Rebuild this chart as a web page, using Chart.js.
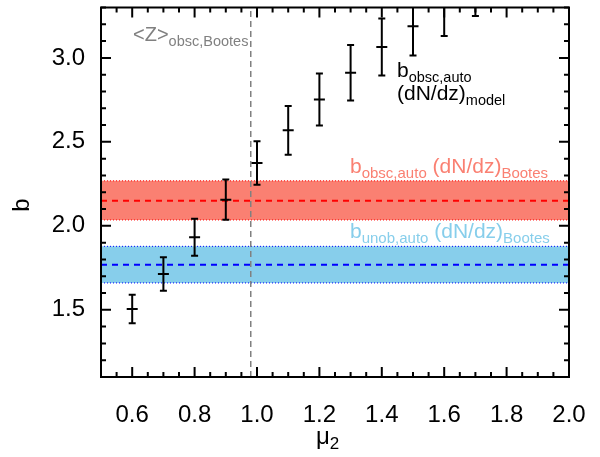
<!DOCTYPE html>
<html>
<head>
<meta charset="utf-8">
<script src="https://cdn.jsdelivr.net/npm/chart.js@4.4.0/dist/chart.umd.min.js"></script>
<style>
html, body { margin: 0; padding: 0; background: #fff; }
#wrap { width: 600px; height: 457px; }
</style>
</head>
<body>
<div id="wrap"><canvas id="biasChart" width="600" height="457"></canvas></div>
<script>
// Axis ranges and tick labels
const xRange = [0.5, 2.0];
const yRange = [1.1, 3.3];
const xTicks = [0.6, 0.8, 1.0, 1.2, 1.4, 1.6, 1.8, 2.0];
const yTicks = [1.5, 2.0, 2.5, 3.0];

// Bias vs mu_2 (points with error bars)
const muValues = [0.6, 0.7, 0.8, 0.9, 1.0, 1.1, 1.2, 1.3, 1.4, 1.5, 1.6, 1.7];
const biasValues = [1.505, 1.713, 1.932, 2.156, 2.374, 2.569, 2.752, 2.911, 3.065, 3.189, 3.31, 3.44];
const biasErrors = [0.085, 0.10, 0.11, 0.12, 0.13, 0.145, 0.155, 0.165, 0.17, 0.175, 0.18, 0.19];

// Bootes bands: [low, mean, high]
const obscBand = [2.035, 2.15, 2.268];
const unobBand = [1.66, 1.768, 1.878];

// mean redshift marker
const zMean = 0.98;

const FONT = '"Liberation Sans", Arial, sans-serif';
const salmon = '#fa8072';
const skyblue = '#87ceeb';

function hLine(yVal) {
    return [{ x: xRange[0], y: yVal }, { x: xRange[1], y: yVal }];
}

function drawRich(ctx, x, y, parts, color) {
    ctx.fillStyle = color;
    ctx.textAlign = 'left';
    ctx.textBaseline = 'alphabetic';
    parts.forEach(p => {
        ctx.font = p.size + 'px ' + FONT;
        ctx.fillText(p.text, x, y + (p.dy || 0));
        x += ctx.measureText(p.text).width;
    });
}

// error bars drawn through the scales
const errorBarPlugin = {
    id: 'errorBars',
    afterDatasetsDraw(chart) {
        const ctx = chart.ctx;
        const xs = chart.scales.x, ys = chart.scales.y;
        const area = chart.chartArea;
        ctx.save();
        ctx.beginPath();
        ctx.rect(area.left, area.top, area.right - area.left, area.bottom - area.top);
        ctx.clip();
        ctx.strokeStyle = '#000';
        ctx.lineWidth = 2;
        muValues.forEach((mu, i) => {
            const px = xs.getPixelForValue(mu);
            const top = ys.getPixelForValue(biasValues[i] + biasErrors[i]);
            const bot = ys.getPixelForValue(biasValues[i] - biasErrors[i]);
            ctx.beginPath();
            ctx.moveTo(px, top); ctx.lineTo(px, bot);
            ctx.moveTo(px - 3.5, top); ctx.lineTo(px + 3.5, top);
            ctx.moveTo(px - 3.5, bot); ctx.lineTo(px + 3.5, bot);
            ctx.stroke();
        });
        ctx.restore();
    }
};

// IDL-style frame with inward ticks on all four sides, plus the annotations
const framePlugin = {
    id: 'frame',
    afterDraw(chart) {
        const ctx = chart.ctx;
        const xs = chart.scales.x, ys = chart.scales.y;
        const a = chart.chartArea;
        ctx.save();
        ctx.strokeStyle = '#000';
        ctx.lineWidth = 2;
        ctx.strokeRect(a.left, a.top, a.right - a.left, a.bottom - a.top);

        ctx.beginPath();
        for (let k = 10; k <= 40; k += 1) {
            const v = k * 0.05;
            const px = xs.getPixelForValue(v);
            const len = (k % 4 === 0) ? 10 : 5;
            ctx.moveTo(px, a.bottom); ctx.lineTo(px, a.bottom - len);
            ctx.moveTo(px, a.top); ctx.lineTo(px, a.top + len);
        }
        for (let k = 11; k <= 33; k += 1) {
            const v = k * 0.1;
            const py = ys.getPixelForValue(v);
            const len = (k % 5 === 0) ? 10 : 5;
            ctx.moveTo(a.left, py); ctx.lineTo(a.left + len, py);
            ctx.moveTo(a.right, py); ctx.lineTo(a.right - len, py);
        }
        ctx.stroke();

        // annotations
        drawRich(ctx, 133, 41, [
            { text: '<Z>', size: 20 },
            { text: 'obsc,Bootes', size: 14.5, dy: 5 }
        ], '#808080');
        drawRich(ctx, 397, 77, [
            { text: 'b', size: 21 },
            { text: 'obsc,auto', size: 14.5, dy: 5 }
        ], '#000');
        drawRich(ctx, 397, 100, [
            { text: '(dN/dz)', size: 21 },
            { text: 'model', size: 14.5, dy: 5 }
        ], '#000');
        drawRich(ctx, 350, 173, [
            { text: 'b', size: 21 },
            { text: 'obsc,auto', size: 15, dy: 5 },
            { text: ' (dN/dz)', size: 21 },
            { text: 'Bootes', size: 15, dy: 5 }
        ], salmon);
        drawRich(ctx, 350, 238, [
            { text: 'b', size: 21 },
            { text: 'unob,auto', size: 15, dy: 5 },
            { text: ' (dN/dz)', size: 21 },
            { text: 'Bootes', size: 15, dy: 5 }
        ], skyblue);

        // axis titles
        drawRich(ctx, 316, 444, [
            { text: '\u03bc', size: 24 },
            { text: '2', size: 17, dy: 5 }
        ], '#000');
        ctx.translate(29, 205);
        ctx.rotate(-Math.PI / 2);
        ctx.font = '24px ' + FONT;
        ctx.textAlign = 'center';
        ctx.fillStyle = '#000';
        ctx.fillText('b', 0, 0);
        ctx.restore();
    }
};

const canvas = document.getElementById('biasChart');
new Chart(canvas.getContext('2d'), {
    type: 'scatter',
    data: {
        datasets: [
            {   // obscured band top
                data: hLine(obscBand[2]), showLine: true, pointRadius: 0, order: 5,
                borderColor: '#ff0000', borderWidth: 1, borderDash: [1, 2],
                backgroundColor: salmon, fill: '+1'
            },
            {   // obscured band bottom
                data: hLine(obscBand[0]), showLine: true, pointRadius: 0, order: 4,
                borderColor: '#ff0000', borderWidth: 1, borderDash: [1, 2], fill: false
            },
            {   // unobscured band top
                data: hLine(unobBand[2]), showLine: true, pointRadius: 0, order: 5,
                borderColor: '#0000ff', borderWidth: 1, borderDash: [1, 2],
                backgroundColor: skyblue, fill: '+1'
            },
            {   // unobscured band bottom
                data: hLine(unobBand[0]), showLine: true, pointRadius: 0, order: 4,
                borderColor: '#0000ff', borderWidth: 1, borderDash: [1, 2], fill: false
            },
            {   // obscured mean
                data: hLine(obscBand[1]), showLine: true, pointRadius: 0, order: 3,
                borderColor: '#ff0000', borderWidth: 2, borderDash: [6, 5], fill: false
            },
            {   // unobscured mean
                data: hLine(unobBand[1]), showLine: true, pointRadius: 0, order: 3,
                borderColor: '#0000ff', borderWidth: 2, borderDash: [6, 5], fill: false
            },
            {   // mean redshift
                data: [{ x: zMean, y: yRange[0] }, { x: zMean, y: yRange[1] }],
                showLine: true, pointRadius: 0, order: 2,
                borderColor: '#808080', borderWidth: 1.5, borderDash: [6, 4], fill: false
            },
            {   // bias points
                data: muValues.map((m, i) => ({ x: m, y: biasValues[i] })),
                pointStyle: 'line', pointRadius: 5.5, pointBorderWidth: 2, order: 1,
                borderColor: '#000', backgroundColor: '#000', clip: 0
            }
        ]
    },
    options: {
        responsive: false,
        animation: false,
        layout: { padding: { left: 0, right: 31, top: 7, bottom: 0 } },
        plugins: {
            legend: { display: false },
            tooltip: { enabled: false }
        },
        scales: {
            x: {
                type: 'linear',
                min: xRange[0], max: xRange[1],
                grid: { display: false },
                border: { display: false },
                afterBuildTicks: axis => { axis.ticks = xTicks.map(v => ({ value: v })); },
                afterFit: axis => { axis.height = 80; axis.paddingLeft = 0; axis.paddingRight = 0; },
                ticks: {
                    padding: 16, color: '#000', maxRotation: 0, autoSkip: false,
                    font: { family: FONT, size: 24 },
                    callback: v => v.toFixed(1)
                }
            },
            y: {
                type: 'linear',
                min: yRange[0], max: yRange[1],
                grid: { display: false },
                border: { display: false },
                afterBuildTicks: axis => { axis.ticks = yTicks.map(v => ({ value: v })); },
                afterFit: axis => { axis.width = 101; axis.paddingTop = 0; axis.paddingBottom = 0; },
                ticks: {
                    padding: 8, color: '#000', autoSkip: false,
                    font: { family: FONT, size: 24 },
                    callback: v => v.toFixed(1)
                }
            }
        }
    },
    plugins: [errorBarPlugin, framePlugin]
});
</script>
</body>
</html>
